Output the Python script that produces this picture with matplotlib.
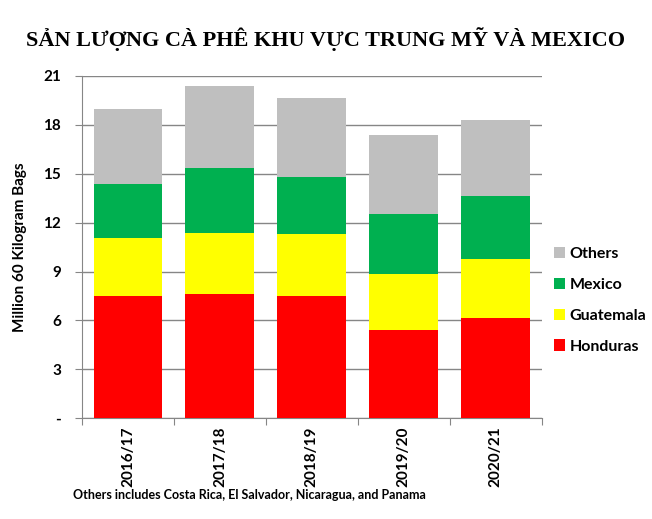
import matplotlib
matplotlib.use("Agg")
import matplotlib.pyplot as plt
import numpy as np

# marketing years
years = ["2016/17", "2017/18", "2018/19", "2019/20", "2020/21"]

# million 60 kg bags
honduras = [7.52, 7.60, 7.52, 5.40, 6.15]
guatemala = [3.55, 3.78, 3.78, 3.45, 3.62]
mexico = [3.30, 3.99, 3.51, 3.70, 3.88]
others = [4.59, 4.99, 4.83, 4.82, 4.62]

yticks = [0, 3, 6, 9, 12, 15, 18, 21]
ytick_labels = ["-", "3", "6", "9", "12", "15", "18", "21"]

series = [("Honduras", honduras, "#FF0000"),
          ("Guatemala", guatemala, "#FFFF00"),
          ("Mexico", mexico, "#00B050"),
          ("Others", others, "#BFBFBF")]

sans = ["Lato", "DejaVu Sans"]

fig = plt.figure(figsize=(6.52, 5.19), dpi=100)
ax = fig.add_axes([0.1258, 0.194, 0.705, 0.660])

x = np.arange(len(years))
bottom = np.zeros(len(years))
handles = []
for name, vals, col in series:
    b = ax.bar(x, vals, width=0.75, bottom=bottom, color=col, label=name, zorder=3)
    handles.append(b)
    bottom += np.array(vals)

ax.set_xlim(-0.5, len(years) - 0.5)
ax.set_ylim(0, 21)
ax.set_yticks(yticks)
ax.set_yticklabels(ytick_labels, fontsize=11, fontweight="bold", family=sans)
ax.yaxis.grid(True, color="#868686", linewidth=1.0, zorder=0)
ax.tick_params(axis="y", length=5, color="#868686", pad=10)

# category ticks sit between the bars
ax.set_xticks(np.arange(-0.5, len(years)))
ax.set_xticklabels([])
ax.set_xticks(x, minor=True)
ax.set_xticklabels(years, minor=True, rotation=90, fontsize=11,
                   fontweight="bold", family=sans)
ax.tick_params(axis="x", which="major", length=5, color="#868686")
ax.tick_params(axis="x", which="minor", length=0, pad=6)

for s in ["top", "right"]:
    ax.spines[s].set_visible(False)
for s in ["left", "bottom"]:
    ax.spines[s].set_color("#868686")

ax.set_ylabel("Million 60 Kilogram Bags", fontsize=11, fontweight="bold",
              family=sans, labelpad=12)

leg = ax.legend(handles[::-1], [s[0] for s in series][::-1],
                loc="center left", bbox_to_anchor=(0.995, 0.345),
                frameon=False, prop={"family": sans, "weight": "bold", "size": 11.5},
                handlelength=0.7, handleheight=0.7, handletextpad=0.3,
                labelspacing=1.05)

fig.text(0.5, 0.925, "SẢN LƯỢNG CÀ PHÊ KHU VỰC TRUNG MỸ VÀ MEXICO",
         ha="center", va="center", fontsize=16, fontweight="bold",
         family="Liberation Serif")
fig.text(0.112, 0.046, "Others includes Costa Rica, El Salvador, Nicaragua, and Panama",
         ha="left", va="center", fontsize=9, fontweight="bold", family=sans)

fig.savefig("out.png", dpi=100)
